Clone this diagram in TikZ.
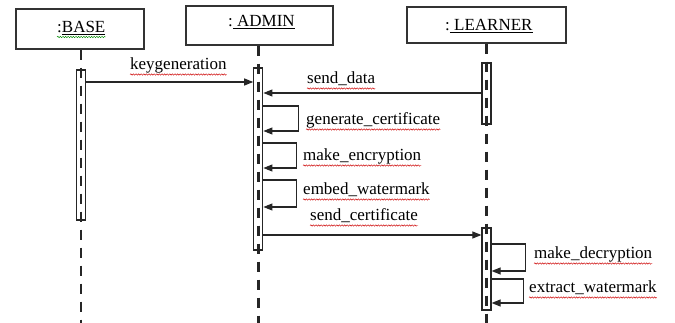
\documentclass[tikz,border=0pt]{standalone}
\usepackage{fontspec}
\setmainfont{Liberation Serif}
\usetikzlibrary{arrows.meta,decorations.pathmorphing}

\begin{document}
\begin{tikzpicture}[x=1pt,y=-1pt,
  every node/.style={font=\fontsize{17}{20}\selectfont},
  objbox/.style={draw=black!80,line width=1.3pt,fill=white,inner sep=0pt},
  actbar/.style={draw=black!85,line width=1.2pt,fill=white,minimum width=9pt,inner sep=0pt},
  lifeline/.style={draw=black!85,line width=2.6pt,dash pattern=on 10.5pt off 7.5pt},
  msg/.style={draw=black!85,line width=1.1pt,-{Triangle[length=9pt,width=7pt]}},
  lbl/.style={inner sep=0pt,anchor=base west},
  squig/.style={draw=red!80!black,line width=0.45pt,decorate,
    decoration={snake,amplitude=0.7pt,segment length=2.6pt}},
  gsquig/.style={squig,draw=green!55!black}]

  \useasboundingbox (0,0) rectangle (675,323);

  % object boxes
  \node[objbox,minimum width=128pt,minimum height=40pt] (base) at (80,29) {};
  \node[objbox,minimum width=147pt,minimum height=39pt] (admin) at (259.5,25.5) {};
  \node[objbox,minimum width=159pt,minimum height=36pt] (learner) at (486.5,25) {};

  \node[lbl] (baseT) at (57,33) {:\underline{BASE}};
  \node[lbl] (adminT) at (228,26.5) {:\underline{ ADMIN}};
  \node[lbl] (learnerT) at (445,30.5) {:\underline{ LEARNER}};
  \draw[gsquig] ([yshift=-4pt]baseT.base west) -- ([yshift=-4pt]baseT.base east);

  % activation bars
  \node[actbar,minimum height=150pt] (bBar) at (81,145) {};
  \node[actbar,minimum height=182pt] (aBar) at (258.3,159) {};
  \node[actbar,minimum height=61pt] (lBarA) at (486.5,93.5) {};
  \node[actbar,minimum height=82pt] (lBarB) at (486.5,269) {};

  % lifeline ends
  \coordinate (bEnd) at (81,323);
  \coordinate (aEnd) at (258.3,323);
  \coordinate (lEnd) at (486.5,323);
  \draw[lifeline] (base.south -| bBar) -- (bEnd);
  \draw[lifeline] (admin.south -| aBar) -- (aEnd);
  \draw[lifeline] (learner.south -| lBarA) -- (lEnd);

  % message heights
  \coordinate (yKey) at (0,82);
  \coordinate (ySend) at (0,93);
  \coordinate (yGenA) at (0,106);
  \coordinate (yGenB) at (0,131);
  \coordinate (yEncA) at (0,143);
  \coordinate (yEncB) at (0,168);
  \coordinate (yEmbA) at (0,180);
  \coordinate (yEmbB) at (0,207);
  \coordinate (yCert) at (0,235);
  \coordinate (yDecA) at (0,244);
  \coordinate (yDecB) at (0,271);
  \coordinate (yExtA) at (0,279);
  \coordinate (yExtB) at (0,303);

  % messages
  \draw[msg] (bBar.east |- yKey) -- (aBar.west |- yKey);
  \draw[msg] (lBarA.west |- ySend) -- (aBar.east |- ySend);
  \draw[msg] (aBar.east |- yGenA) -- ++(35,0) |- (aBar.east |- yGenB);
  \draw[msg] (aBar.east |- yEncA) -- ++(33,0) |- (aBar.east |- yEncB);
  \draw[msg] (aBar.east |- yEmbA) -- ++(33,0) |- (aBar.east |- yEmbB);
  \draw[msg] (aBar.east |- yCert) -- (lBarB.west |- yCert);
  \draw[msg] (lBarB.east |- yDecA) -- ++(34,0) |- (lBarB.east |- yDecB);
  \draw[msg] (lBarB.east |- yExtA) -- ++(32,0) |- (lBarB.east |- yExtB);

  % message labels
  \node[lbl] (t1) at (130,70) {keygeneration};
  \node[lbl] (t2) at (307,84) {send\_data};
  \node[lbl] (t3) at (306,125) {generate\_certificate};
  \node[lbl] (t4) at (303,161) {make\_encryption};
  \node[lbl] (t5) at (303,195) {embed\_watermark};
  \node[lbl] (t6) at (310,221) {send\_certificate};
  \node[lbl] (t7) at (534,259) {make\_decryption};
  \node[lbl] (t8) at (529,293) {extract\_watermark};
  \foreach \t in {t1,t2,t3,t4,t5,t6,t7,t8}
    \draw[squig] ([yshift=-4.5pt]\t.base west) -- ([yshift=-4.5pt]\t.base east);
\end{tikzpicture}
\end{document}
